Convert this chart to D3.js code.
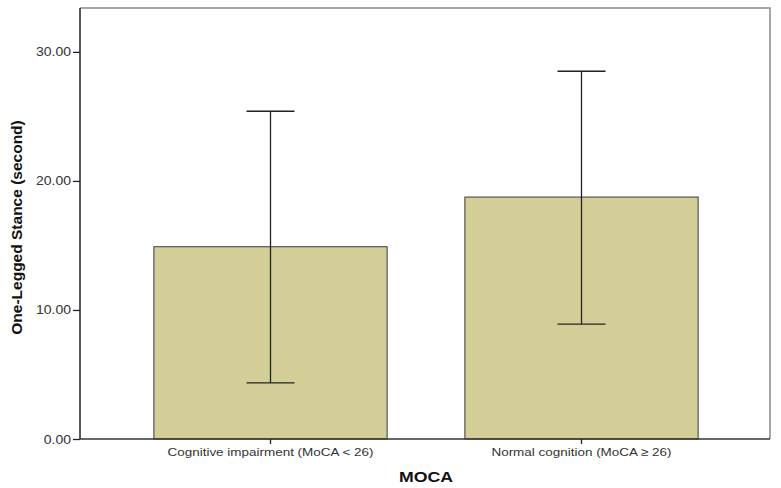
<!DOCTYPE html>
<html>
<head>
<meta charset="utf-8">
<script src="https://d3js.org/d3.v7.min.js"></script>
<style>
body { margin:0; background:#fff; }
text { font-family: "Liberation Sans", Arial, sans-serif; }
</style>
</head>
<body>
<svg width="781" height="488"></svg>
<script>
var groups = ["Cognitive impairment (MoCA < 26)", "Normal cognition (MoCA \u2265 26)"];
var means = [14.9, 18.75];
var lower = [4.35, 8.9];
var upper = [25.4, 28.5];
var yTicks = [0, 10, 20, 30];

var svg = d3.select("svg");
var pLeft = 80, pRight = 770, pTop = 8, pBottom = 439;

// the original export has slightly wide lettering
function widen(sel, k) {
  sel.each(function() {
    var w = this.getComputedTextLength();
    d3.select(this).attr("textLength", w * k).attr("lengthAdjust", "spacingAndGlyphs");
  });
}

var y = d3.scaleLinear().domain([0, 33.4]).range([pBottom, pTop]);
var x = d3.scaleBand().domain(groups)
    .range([115, 737]).paddingInner(0.25).paddingOuter(0.125);

// frame top/right (grey)
svg.append("path")
    .attr("d", "M" + pLeft + "," + pTop + "H" + pRight + "V" + pBottom)
    .attr("fill", "none").attr("stroke", "#8a8a8a").attr("stroke-width", 1.5);

// bars
svg.selectAll("rect.bar").data(groups).enter().append("rect")
    .attr("class", "bar")
    .attr("x", function(d) { return x(d); })
    .attr("width", x.bandwidth())
    .attr("y", function(d, i) { return y(means[i]); })
    .attr("height", function(d, i) { return y(0) - y(means[i]); })
    .attr("fill", "#d3ce98")
    .attr("stroke", "#3a3a3a")
    .attr("stroke-width", 1);

// error bars
var capW = 24;
groups.forEach(function(g, i) {
  var cx = x(g) + x.bandwidth() / 2;
  var eb = svg.append("g").attr("stroke", "#222").attr("stroke-width", 1.3);
  eb.append("line").attr("x1", cx).attr("x2", cx).attr("y1", y(lower[i])).attr("y2", y(upper[i]));
  eb.append("line").attr("x1", cx - capW).attr("x2", cx + capW).attr("y1", y(upper[i])).attr("y2", y(upper[i]));
  eb.append("line").attr("x1", cx - capW).attr("x2", cx + capW).attr("y1", y(lower[i])).attr("y2", y(lower[i]));
});

// y axis
var yAxis = svg.append("g")
    .attr("transform", "translate(" + pLeft + ",0)")
    .call(d3.axisLeft(y).tickValues(yTicks).tickSize(7).tickPadding(2)
      .tickFormat(d3.format(".2f")));
yAxis.select(".domain").attr("d", "M0," + pTop + "V" + pBottom).attr("stroke", "#222").attr("stroke-width", 1.5);
yAxis.selectAll(".tick line").attr("stroke", "#222").attr("stroke-width", 1.3);
yAxis.selectAll(".tick text").attr("font-size", 12.5).attr("fill", "#333")
    .attr("font-family", "'Liberation Sans', Arial, sans-serif")
    .call(widen, 1.12);

// x axis
var xAxis = svg.append("g")
    .attr("transform", "translate(0," + pBottom + ")")
    .call(d3.axisBottom(x).tickSize(5).tickPadding(4));
xAxis.select(".domain").attr("d", "M" + pLeft + ",0H" + pRight).attr("stroke", "#333").attr("stroke-width", 1.3);
xAxis.selectAll(".tick line").attr("stroke", "#222").attr("stroke-width", 1.3);
xAxis.selectAll(".tick text").attr("font-size", 11.5).attr("fill", "#333")
    .attr("font-family", "'Liberation Sans', Arial, sans-serif")
    .call(widen, 1.17);

// titles
svg.append("text")
    .attr("transform", "translate(22," + ((pTop + pBottom) / 2 + 4) + ") rotate(-90)")
    .attr("text-anchor", "middle")
    .attr("font-size", 15.5).attr("font-weight", "bold").attr("fill", "#111")
    .text("One-Legged Stance (second)");

svg.append("text")
    .attr("x", 426).attr("y", 482)
    .attr("text-anchor", "middle")
    .attr("font-size", 14.5).attr("font-weight", "bold").attr("fill", "#111")
    .text("MOCA")
    .call(widen, 1.22);
</script>
</body>
</html>
